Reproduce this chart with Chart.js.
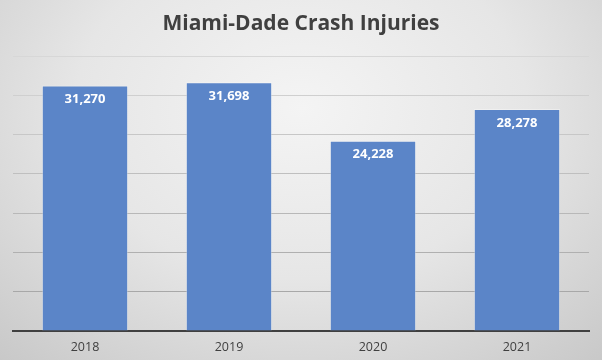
<!DOCTYPE html>
<html>
<head>
<meta charset="utf-8">
<script src="https://cdn.jsdelivr.net/npm/chart.js@4/dist/chart.umd.min.js"></script>
<style>
  html, body { margin: 0; padding: 0; }
  body {
    width: 602px; height: 360px; overflow: hidden;
    background: radial-gradient(ellipse 75% 95% at 50% 30%, #f4f4f4 0%, #e6e6e6 50%, #c8c8c8 100%);
  }
  #wrap { position: relative; width: 602px; height: 360px; }
</style>
</head>
<body>
<div id="wrap"><canvas id="myChart"></canvas></div>
<script>
const years = ['2018', '2019', '2020', '2021'];
const injuries = [31270, 31698, 24228, 28278];
const yMax = 35000;
const yStep = 5000;

// white value labels inside the top of each bar
const barLabels = {
  id: 'barLabels',
  afterDatasetsDraw(chart) {
    const ctx = chart.ctx;
    const meta = chart.getDatasetMeta(0);
    ctx.save();
    ctx.fillStyle = '#ffffff';
    ctx.font = 'bold 13px "Open Sans"';
    ctx.textAlign = 'center';
    ctx.textBaseline = 'middle';
    meta.data.forEach((bar, i) => {
      ctx.fillText(injuries[i].toLocaleString('en-US'), bar.x, bar.y + 14);
    });
    ctx.restore();
  }
};

const ctx = document.getElementById('myChart').getContext('2d');

const myChart = new Chart(ctx, {
  type: 'bar',
  data: {
    labels: years,
    datasets: [{
      data: injuries,
      backgroundColor: '#5b85c8',
      borderColor: 'rgba(255,255,255,0.35)',
      borderWidth: {left: 1, right: 1, top: 1, bottom: 0},
      barPercentage: 1,
      categoryPercentage: 0.6
    }]
  },
  options: {
    responsive: true,
    maintainAspectRatio: false,
    animation: false,
    layout: { padding: { left: 13, right: 13, top: 0, bottom: 0 } },
    plugins: {
      legend: { display: false },
      tooltip: { enabled: false },
      title: {
        display: true,
        text: 'Miami-Dade Crash Injuries',
        color: '#404040',
        font: { family: '"Open Sans"', size: 21, weight: 'bold' },
        padding: { top: 11, bottom: 20 }
      }
    },
    scales: {
      x: {
        grid: { display: false, drawTicks: false },
        border: { color: '#404040', width: 2 },
        ticks: { color: '#404040', font: { family: '"Open Sans"', size: 12.5 }, padding: 9 },
        afterFit: (s) => { s.height = 29; }
      },
      y: {
        min: 0,
        max: yMax,
        ticks: { display: false, stepSize: yStep },
        border: { display: false },
        grid: {
          drawTicks: false,
          color: (c) => {
            const t = c.tick ? c.tick.value / yMax : 0;
            const g = Math.round(160 + 55 * t);
            return 'rgb(' + g + ',' + g + ',' + g + ')';
          }
        },
        afterFit: (s) => { s.width = 0; }
      }
    }
  },
  plugins: [barLabels]
});
</script>
</body>
</html>
